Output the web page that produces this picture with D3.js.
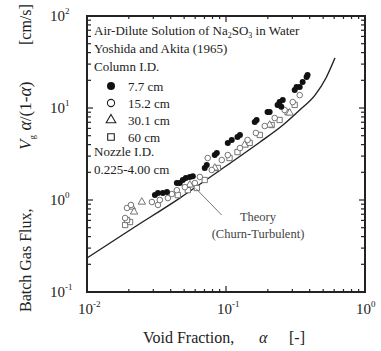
<!DOCTYPE html>
<html>
<head>
<meta charset="utf-8">
<script src="https://cdn.jsdelivr.net/npm/d3@7"></script>
<style>
  body { margin: 0; background: #fff; }
  svg { display: block; font-family: "Liberation Serif", "Times New Roman", serif; }
</style>
</head>
<body>
<svg width="381" height="351"></svg>
<script>
'use strict';

// theory curve (churn-turbulent)
const theoryAlpha = [0.0100, 0.0204, 0.0465, 0.100, 0.176, 0.257, 0.339, 0.437, 0.524, 0.608];
const theoryFlux  = [0.234, 0.472, 1.05, 2.34, 4.27, 6.53, 9.51, 13.8, 21.2, 34.9];

// column I.D. 7.7 cm (filled circles)
const col77 = [
  [0.0308, 1.13], [0.0324, 1.19], [0.0351, 1.19], [0.0376, 1.22], [0.0443, 1.53],
  [0.0465, 1.53], [0.0489, 1.65], [0.0514, 1.73], [0.0549, 1.78], [0.0577, 1.81],
  [0.0703, 2.23], [0.0727, 2.40], [0.0830, 3.08], [0.0859, 3.24], [0.103, 4.17],
  [0.110, 4.49], [0.121, 4.84], [0.126, 5.09], [0.161, 7.05], [0.166, 7.41],
  [0.199, 9.05], [0.206, 9.05], [0.235, 10.8], [0.250, 10.3], [0.243, 11.6],
  [0.256, 12.2], [0.312, 15.7], [0.322, 16.9], [0.339, 16.9], [0.356, 19.2],
  [0.380, 21.7], [0.386, 22.8]
];
// 15.2 cm (open circles)
const col152 = [
  [0.0188, 0.637], [0.0194, 0.819], [0.0207, 0.883], [0.0293, 0.951], [0.0324, 0.883],
  [0.0334, 1.00], [0.0382, 1.05], [0.0408, 1.16], [0.0443, 1.28], [0.0506, 1.38],
  [0.0597, 1.53], [0.0648, 1.78], [0.0739, 2.86], [0.0790, 2.12], [0.0932, 2.72],
  [0.103, 3.08], [0.126, 3.67], [0.143, 4.49], [0.164, 5.35], [0.190, 6.37],
  [0.224, 7.78], [0.264, 9.51], [0.302, 11.6], [0.339, 13.8]
];
// 30.1 cm (open triangles)
const col301 = [
  [0.0210, 0.840], [0.0218, 0.742], [0.0248, 0.951], [0.0549, 1.46], [0.0830, 2.23],
  [0.136, 3.96], [0.206, 6.53], [0.287, 8.83]
];
// 60 cm (open squares)
const col60 = [
  [0.0188, 0.535], [0.0204, 0.576], [0.0194, 0.606], [0.0450, 1.13], [0.0531, 1.28],
  [0.0617, 1.35], [0.0703, 1.65], [0.0873, 2.23], [0.106, 2.86], [0.121, 3.32],
  [0.148, 4.17], [0.175, 5.09], [0.213, 6.53], [0.243, 7.41], [0.277, 9.05],
  [0.312, 10.8]
];

const legendLabels = ['7.7 cm', '15.2 cm', '30.1 cm', '60 cm'];
const xTickExp = [-2, -1, 0];
const yTickExp = [-1, 0, 1, 2];

const svg = d3.select('svg');
const margin = { top: 16, right: 16, bottom: 59, left: 87 };
const width = +svg.attr('width');
const height = +svg.attr('height');
const innerW = width - margin.left - margin.right;
const innerH = height - margin.top - margin.bottom;

const x = d3.scaleLog().domain([0.01, 1]).range([margin.left, margin.left + innerW]);
const y = d3.scaleLog().domain([0.1, 100]).range([margin.top + innerH, margin.top]);

const ink = '#222';
const grey = '#666';

// minor + major tick positions
const logTicks = (lo, hi) => {
  const out = [];
  for (let e = lo; e < hi; e++) {
    for (let m = 1; m < 10; m++) out.push({ v: m * Math.pow(10, e), major: m === 1 });
  }
  out.push({ v: Math.pow(10, hi), major: true });
  return out;
};
const xt = logTicks(-2, 0);
const yt = logTicks(-1, 2);

const axes = svg.append('g').attr('stroke', ink).attr('stroke-width', 1.2);
// left & right
yt.forEach(t => {
  const len = t.major ? 6 : 4;
  axes.append('line').attr('x1', x(0.01)).attr('x2', x(0.01) + len).attr('y1', y(t.v)).attr('y2', y(t.v));
  axes.append('line').attr('x1', x(1)).attr('x2', x(1) - len).attr('y1', y(t.v)).attr('y2', y(t.v));
});
// top & bottom
xt.forEach(t => {
  const len = t.major ? 6 : 3;
  axes.append('line').attr('x1', x(t.v)).attr('x2', x(t.v)).attr('y1', y(100)).attr('y2', y(100) + len);
  axes.append('line').attr('x1', x(t.v)).attr('x2', x(t.v)).attr('y1', y(0.1)).attr('y2', y(0.1) - len);
});

svg.append('rect')
  .attr('x', x(0.01)).attr('y', y(100))
  .attr('width', x(1) - x(0.01)).attr('height', y(0.1) - y(100))
  .attr('fill', 'none').attr('stroke', ink).attr('stroke-width', 2);

// tick labels with superscripts
const tickLabel = (sel, e) => {
  sel.append('tspan').text('10');
  sel.append('tspan').attr('font-size', 9).attr('dy', -7).text(e);
};
xTickExp.forEach(e => {
  const t = svg.append('text')
    .attr('x', x(Math.pow(10, e)) - 9).attr('y', 314)
    .attr('font-size', 15).attr('fill', ink);
  tickLabel(t, e);
});
yTickExp.forEach(e => {
  const t = svg.append('text')
    .attr('x', 50).attr('y', y(Math.pow(10, e)) + 5)
    .attr('font-size', 15).attr('fill', ink);
  tickLabel(t, e);
});

// axis titles
const xt1 = svg.append('text').attr('y', 343).attr('font-size', 16).attr('fill', ink);
xt1.append('tspan').attr('x', 143).text('Void Fraction,');
xt1.append('tspan').attr('x', 259).attr('font-style', 'italic').text('α');
xt1.append('tspan').attr('x', 289).text('[-]');

const yg = svg.append('g').attr('transform', 'translate(31,0) rotate(-90)');
yg.append('text').attr('x', -312).attr('font-size', 16).attr('fill', ink).text('Batch Gas Flux,');
const yt2 = yg.append('text').attr('x', -150).attr('font-size', 17).attr('fill', ink);
yt2.append('tspan').attr('font-style', 'italic').text('V');
yt2.append('tspan').attr('font-size', 9).attr('dy', 4).text('g');
yt2.append('tspan').attr('dy', -4).attr('font-style', 'italic').attr('font-size', 18).text(' α');
yt2.append('tspan').text('/(1-');
yt2.append('tspan').attr('font-style', 'italic').attr('font-size', 18).text('α');
yt2.append('tspan').text(')');
yg.append('text').attr('x', -45).attr('font-size', 16).attr('fill', ink).text('[cm/s]');

// theory curve
const theory = theoryAlpha.map((a, i) => [a, theoryFlux[i]]);
svg.append('path')
  .datum(theory)
  .attr('fill', 'none').attr('stroke', ink).attr('stroke-width', 1.4)
  .attr('d', d3.line().x(d => x(d[0])).y(d => y(d[1])).curve(d3.curveMonotoneX));

// markers
const plot = svg.append('g');
const sym = (type, size) => d3.symbol().type(type).size(size)();
plot.selectAll('.sq').data(col60).enter().append('path')
  .attr('transform', d => `translate(${x(d[0])},${y(d[1])})`)
  .attr('d', sym(d3.symbolSquare, 28))
  .attr('fill', '#fff').attr('stroke', grey).attr('stroke-width', 0.9);
plot.selectAll('.tri').data(col301).enter().append('path')
  .attr('transform', d => `translate(${x(d[0])},${y(d[1])})`)
  .attr('d', sym(d3.symbolTriangle, 24))
  .attr('fill', '#fff').attr('stroke', grey).attr('stroke-width', 0.9);
plot.selectAll('.oc').data(col152).enter().append('circle')
  .attr('cx', d => x(d[0])).attr('cy', d => y(d[1])).attr('r', 2.8)
  .attr('fill', '#fff').attr('stroke', grey).attr('stroke-width', 0.9);
plot.selectAll('.fc').data(col77).enter().append('circle')
  .attr('cx', d => x(d[0])).attr('cy', d => y(d[1])).attr('r', 3)
  .attr('fill', '#111');

// annotation
svg.append('line')
  .attr('x1', x(0.0608)).attr('y1', y(1.33))
  .attr('x2', x(0.093)).attr('y2', y(0.687))
  .attr('stroke', '#777').attr('stroke-width', 1);
svg.append('text').attr('x', 258).attr('y', 221).attr('text-anchor', 'middle')
  .attr('font-size', 12.5).attr('fill', '#444').text('Theory');
svg.append('text').attr('x', 258).attr('y', 238).attr('text-anchor', 'middle')
  .attr('font-size', 12.5).attr('fill', '#444').text('(Churn-Turbulent)');

// in-plot notes and legend
const note = (tx, ty, s) => svg.append('text').attr('x', tx).attr('y', ty)
  .attr('font-size', 13).attr('fill', ink).text(s);
const t1 = note(94, 35, 'Air-Dilute Solution of Na');
t1.append('tspan').attr('font-size', 8).attr('dy', 3).text('2');
t1.append('tspan').attr('dy', -3).text('SO');
t1.append('tspan').attr('font-size', 8).attr('dy', 3).text('3');
t1.append('tspan').attr('dy', -3).text(' in Water');
note(94, 53, 'Yoshida and Akita (1965)');
note(94, 71, 'Column I.D.');
note(94, 156, 'Nozzle I.D.');
note(94, 174, '0.225-4.00 cm');

const legY = [86, 103, 120, 137];
const lg = svg.append('g');
lg.append('circle').attr('cx', 111).attr('cy', legY[0]).attr('r', 4).attr('fill', '#111');
lg.append('circle').attr('cx', 111).attr('cy', legY[1]).attr('r', 3.6)
  .attr('fill', 'none').attr('stroke', ink).attr('stroke-width', 1.1);
lg.append('path').attr('transform', `translate(111,${legY[2]})`).attr('d', sym(d3.symbolTriangle, 40))
  .attr('fill', 'none').attr('stroke', ink).attr('stroke-width', 1.1);
lg.append('path').attr('transform', `translate(111,${legY[3]})`).attr('d', sym(d3.symbolSquare, 44))
  .attr('fill', 'none').attr('stroke', ink).attr('stroke-width', 1.1);
legendLabels.forEach((s, i) => note(128, legY[i] + 5, s));
</script>
</body>
</html>
